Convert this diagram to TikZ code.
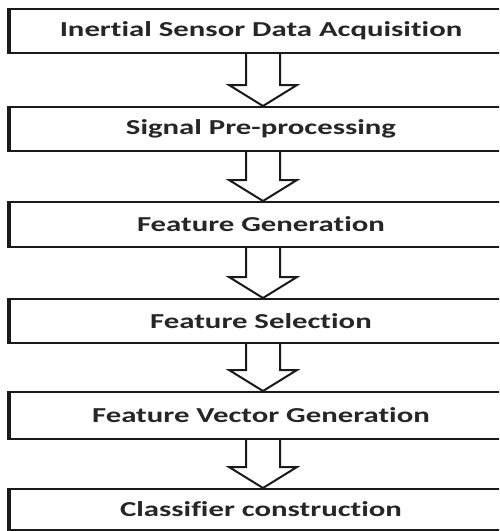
\documentclass[tikz,border=0pt]{standalone}
\usepackage{fontspec}
\setmainfont{Carlito}[Ligatures=NoCommon]
\usetikzlibrary{calc}
\definecolor{inkline}{HTML}{1A1A1A}
\definecolor{inktext}{HTML}{262626}
\newcommand\widelabel[1]{\scalebox{1.62}[1.12]{#1}}
\tikzset{
  stage/.style={draw=inkline, line width=2pt, minimum width=502pt, inner sep=0pt,
    font=\fontsize{19}{22}\selectfont\bfseries, text=inktext},
  leftedge/.style={draw=inkline, line width=3.5pt},
  blockarrow/.style={draw=inkline, line width=2pt, fill=white, line join=miter}
}
\newcommand\flowarrow[2]{%
  \draw[blockarrow] ($(#1.south)+(-15,0)$) -- ($(#2.north)+(-15,-21)$)
    -- ($(#2.north)+(-32,-21)$) -- ($(#2.north)+(2,0)$)
    -- ($(#2.north)+(36,-21)$) -- ($(#2.north)+(19,-21)$)
    -- ($(#1.south)+(19,0)$);}
\begin{document}
\begin{tikzpicture}[x=1pt,y=-1pt]
\useasboundingbox (0,0) rectangle (499,531);
\clip (0,0) rectangle (499,531);
\fill[white] (0,0) rectangle (499,531);
\node[stage, minimum height=44pt] (b1) at (261,31) {\widelabel{Inertial Sensor Data Acquisition}};
\node[stage, minimum height=44pt] (b2) at (261,129) {\widelabel{Signal Pre-processing}};
\node[stage, minimum height=45pt] (b3) at (261,224.5) {\widelabel{Feature Generation}};
\node[stage, minimum height=44pt] (b4) at (261,321) {\widelabel{Feature Selection}};
\node[stage, minimum height=47pt] (b5) at (261,415.5) {\widelabel{Feature Vector Generation}};
\node[stage, minimum height=41pt] (b6) at (261,509.5) {\widelabel{Classifier construction}};
\foreach \b in {b1,b2,b3,b4,b5,b6}{\draw[leftedge] (\b.north west) -- (\b.south west);}
\flowarrow{b1}{b2}
\flowarrow{b2}{b3}
\flowarrow{b3}{b4}
\flowarrow{b4}{b5}
\flowarrow{b5}{b6}
\end{tikzpicture}
\end{document}
